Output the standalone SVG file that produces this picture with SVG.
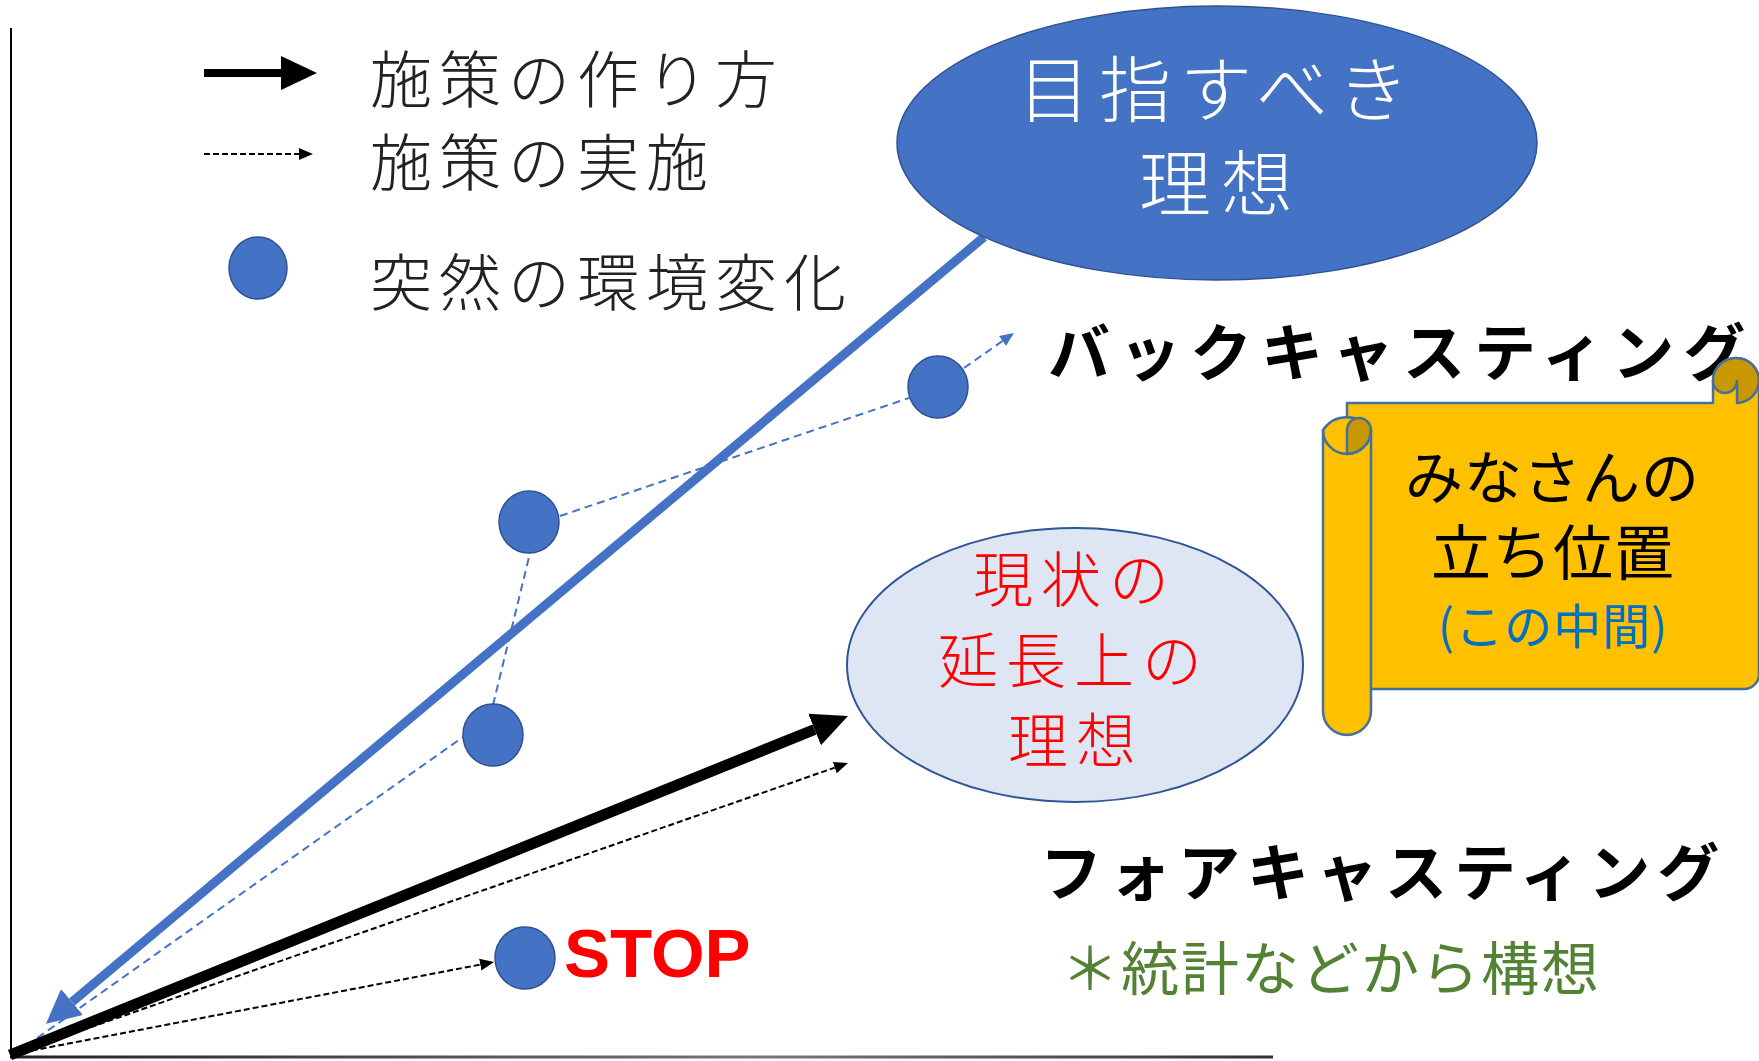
<svg xmlns="http://www.w3.org/2000/svg" width="1759" height="1061" viewBox="0 0 1759 1061">
<style>
.jp{font-family:"Noto Sans CJK JP","Noto Sans",sans-serif}
.light{font-weight:300}
.leg{font-size:62px;fill:#222;letter-spacing:7px}
.kata{font-size:62px;font-weight:700;fill:#000}
.dot{fill:#4472C4;stroke:#2F528F;stroke-width:1.5}
.scroll{fill:#FFC000;stroke:#41719C;stroke-width:2.5;stroke-linejoin:round}
.curl{fill:#C99700;stroke:#41719C;stroke-width:2.5;stroke-linejoin:round}
.dashB{fill:none;stroke:#4472C4;stroke-width:2;stroke-dasharray:8 5}
.dashK{fill:none;stroke:#000;stroke-width:2;stroke-dasharray:6 3}
</style>
<defs>
<marker id="hK" markerUnits="userSpaceOnUse" markerWidth="36" markerHeight="36" viewBox="0 -18 36 36" refX="0" refY="0" orient="auto"><path d="M0,-17 L36,0 L0,17 Z" fill="#000"/></marker>
<marker id="hB" markerUnits="userSpaceOnUse" markerWidth="36" markerHeight="36" viewBox="0 -18 36 36" refX="0" refY="0" orient="auto"><path d="M0,-17 L34,0 L0,17 Z" fill="#4472C4"/></marker>
<marker id="hKs" markerUnits="userSpaceOnUse" markerWidth="16" markerHeight="16" viewBox="0 -8 16 16" refX="0" refY="0" orient="auto"><path d="M0,-6 L14,0 L0,6 Z" fill="#000"/></marker>
<marker id="hBs" markerUnits="userSpaceOnUse" markerWidth="16" markerHeight="16" viewBox="0 -8 16 16" refX="0" refY="0" orient="auto"><path d="M0,-6 L14,0 L0,6 Z" fill="#4472C4"/></marker>
<linearGradient id="axisG" x1="0" y1="0" x2="1" y2="0"><stop offset="0" stop-color="#222"/><stop offset="0.6" stop-color="#777"/><stop offset="1" stop-color="#333"/></linearGradient>
</defs>
<rect width="1759" height="1061" fill="#fff"/>

<g id="axes">
<line x1="11" y1="28" x2="11" y2="1057" stroke="#000" stroke-width="2"/>
<rect x="10" y="1055.5" width="1263" height="3" fill="url(#axisG)"/>
</g>

<g id="connectors">
<line x1="984" y1="237" x2="72" y2="1002" stroke="#4472C4" stroke-width="9" marker-end="url(#hB)"/>
<line class="dashB" x1="16" y1="1053" x2="463" y2="737"/>
<line class="dashB" x1="493" y1="705" x2="530" y2="553"/>
<line class="dashB" x1="560" y1="516" x2="909" y2="398"/>
<line class="dashB" x1="964" y1="368" x2="1002.5" y2="341" marker-end="url(#hBs)"/>
<line class="dashK" x1="14" y1="1054" x2="834.8" y2="767.6" marker-end="url(#hKs)"/>
<line class="dashK" x1="14" y1="1054" x2="480.3" y2="964.6" marker-end="url(#hKs)"/>
<line x1="10" y1="1055" x2="814.6" y2="729.5" stroke="#000" stroke-width="11" marker-end="url(#hK)"/>
</g>

<g id="legend">
<line x1="204" y1="73" x2="281" y2="73" stroke="#000" stroke-width="8" marker-end="url(#hK)"/>
<text class="jp light leg" x="370" y="103">施策の作り方</text>
<line class="dashK" x1="204" y1="154" x2="299" y2="154" stroke-width="1.5" marker-end="url(#hKs)"/>
<text class="jp light leg" x="370" y="186">施策の実施</text>
<ellipse class="dot" cx="258" cy="268" rx="29" ry="31"/>
<text class="jp light leg" x="370" y="306">突然の環境変化</text>
</g>

<g id="ideal">
<ellipse cx="1217" cy="143" rx="320" ry="137" fill="#4472C4" stroke="#2F528F" stroke-width="1.5"/>
<text class="jp light" x="1018" y="116" font-size="72" fill="#fff" letter-spacing="9">目指すべき</text>
<text class="jp light" x="1139" y="210" font-size="72" fill="#fff" letter-spacing="10">理想</text>
</g>

<g id="event1"><ellipse class="dot" cx="493" cy="735" rx="30" ry="31"/></g>
<g id="event2"><ellipse class="dot" cx="529" cy="522" rx="30" ry="31"/></g>
<g id="event3"><ellipse class="dot" cx="938" cy="387" rx="30" ry="31"/></g>
<g id="stop">
<ellipse class="dot" cx="525" cy="958" rx="30" ry="31"/>
<text x="564" y="977" font-family="Liberation Sans, Arial, sans-serif" font-weight="700" font-size="69" fill="#FF0000">STOP</text>
</g>

<g id="backcasting">
<text class="jp kata" x="1048" y="376" letter-spacing="9">バックキャスティング</text>
</g>

<g id="extension">
<ellipse cx="1075" cy="665" rx="228" ry="137" fill="#DFE6F3" stroke="#2F5597" stroke-width="2"/>
<text class="jp light" x="973" y="602" font-size="60" fill="#FF0000" letter-spacing="8">現状の</text>
<text class="jp light" x="938" y="683" font-size="60" fill="#FF0000" letter-spacing="8">延長上の</text>
<text class="jp light" x="1008" y="763" font-size="60" fill="#FF0000" letter-spacing="8">理想</text>
</g>

<g id="forecasting">
<text class="jp kata" x="1040" y="896" letter-spacing="7">フォアキャスティング</text>
<text class="jp" x="1061" y="990" font-size="58" fill="#548235" letter-spacing="2">＊統計などから構想</text>
</g>

<g id="position">
<path class="scroll" d="M1347,403 L1713,403 L1713,381 A23,23 0 0 1 1759,381 L1759,674 A15,15 0 0 1 1744,689 L1347,689 Z"/>
<path class="curl" d="M1713,381 A23,23 0 0 1 1759,381 A23,23 0 0 1 1737,403 L1737,381 A12,12 0 0 1 1713,381 Z"/>
<path class="scroll" d="M1323,430 A29,29 0 0 1 1371,430 L1371,711 A24,24 0 0 1 1323,711 Z"/>
<path class="curl" d="M1347,430 A12,12 0 0 1 1371,430 A24,24 0 0 1 1347,454 Z"/>
<path d="M1323,430 A24,24 0 0 0 1371,430" fill="none" stroke="#41719C" stroke-width="2.5"/>
<text class="jp" x="1405" y="499" font-size="58" fill="#000" letter-spacing="1">みなさんの</text>
<text class="jp" x="1431" y="575" font-size="60" fill="#000" letter-spacing="1">立ち位置</text>
<text class="jp" x="1553" y="644" font-size="48" fill="#0070C0" text-anchor="middle" letter-spacing="1">(この中間)</text>
</g>
</svg>
